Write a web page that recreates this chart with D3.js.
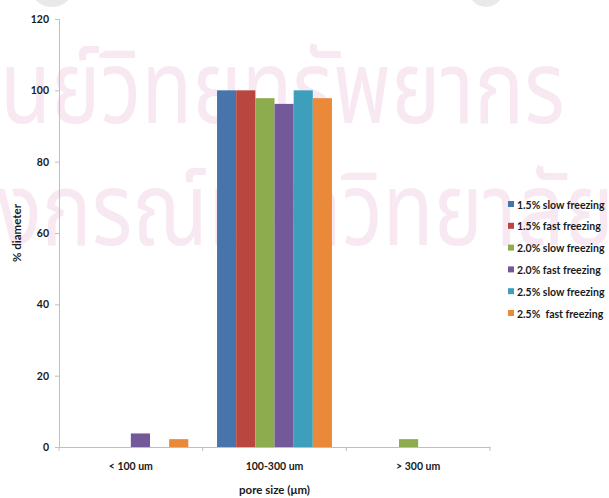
<!DOCTYPE html>
<html>
<head>
<meta charset="utf-8">
<script src="https://cdn.jsdelivr.net/npm/d3@7"></script>
<style>
  html, body { margin: 0; padding: 0; background: #ffffff; }
  svg { display: block; }
  text { font-family: Lato, "Open Sans", "DejaVu Sans", sans-serif; fill: #1a1a1a; }
</style>
</head>
<body>
<svg id="chart" width="609" height="498"></svg>
<script>
// Pore size classes on the x axis
const categories = ["< 100 um", "100-300 um", "> 300 um"];

// Sample series (legend order)
const seriesNames = [
  "1.5% slow freezing",
  "1.5% fast freezing",
  "2.0% slow freezing",
  "2.0% fast freezing",
  "2.5% slow freezing",
  "2.5%  fast freezing"
];
const seriesColors = ["#4674ab", "#b9463f", "#8dac4d", "#74599a", "#3d9fbc", "#eb893a"];

// % diameter per pore-size class, one array per class in series order
const lessThan100 = [0, 0, 0, 3.8, 0, 2.2];
const from100to300 = [100, 100, 97.8, 96.2, 100, 97.8];
const over300 = [0, 0, 2.2, 0, 0, 0];

const yTicks = [0, 20, 40, 60, 80, 100, 120];

// Faint background lettering (library stamp), with the part that runs off the left edge
const watermarkLines = ["ศูนย์วิทยทรัพยากร", "จุฬาลงกรณ์มหาวิทยาลัย"];
const watermarkHidden = ["ศู", "จุฬาล"];

const values = [lessThan100, from100to300, over300];
const table = categories.map((c, i) => ({
  category: c,
  bars: seriesNames.map((s, j) => ({ series: s, idx: j, value: values[i][j] }))
}));

const svg = d3.select("#chart");

// stamp shadows along the top edge
svg.append("ellipse").attr("cx", 52).attr("cy", -10).attr("rx", 20).attr("ry", 17).attr("fill", "#e9e9e9");
svg.append("ellipse").attr("cx", 486).attr("cy", -12).attr("rx", 18).attr("ry", 19).attr("fill", "#e9e9e9");

// watermark: size the first line so its visible part spans the plot width
const wm = svg.append("g").attr("class", "watermark");
const wmFont = "'Noto Sans Thai', 'Noto Sans', sans-serif";
function measure(str, size) {
  const t = wm.append("text").attr("font-size", size).style("font-family", wmFont).text(str);
  const w = t.node().getComputedTextLength();
  t.remove();
  return w;
}
const baseSize = 100;
const fullW = measure(watermarkLines[0], baseSize);
const hidW = measure(watermarkHidden[0], baseSize);
const wmSize = baseSize * 565 / (fullW - hidW);
const wmBaselines = [123, 245];
watermarkLines.forEach((line, i) => {
  const off = measure(watermarkHidden[i], wmSize);
  wm.append("text")
    .attr("transform", `translate(${-off - (i === 1 ? 3 : 0)},${wmBaselines[i]}) scale(1,1.22)`)
    .attr("font-size", wmSize)
    .style("fill", "#f7e8f2")
    .style("font-family", wmFont)
    .text(line);
});

const plotLeft = 59, plotRight = 490, plotTop = 19, plotBottom = 447;

const x0 = d3.scaleBand().domain(categories).range([plotLeft, plotRight]).padding(0);
const inner = x0.bandwidth() * 0.1;
const x1 = d3.scaleBand().domain(d3.range(seriesNames.length))
  .range([inner, x0.bandwidth() - inner]).padding(0);
const y = d3.scaleLinear().domain([0, 120]).range([plotBottom, plotTop]);

// bars
svg.append("g").selectAll("g")
  .data(table).join("g")
  .attr("transform", d => `translate(${x0(d.category)},0)`)
  .selectAll("rect")
  .data(d => d.bars.filter(b => b.value > 0)).join("rect")
  .attr("x", b => x1(b.idx))
  .attr("width", x1.bandwidth())
  .attr("y", b => y(b.value))
  .attr("height", b => y(0) - y(b.value))
  .attr("fill", b => seriesColors[b.idx]);

// y axis
const yAxis = svg.append("g")
  .attr("transform", `translate(${plotLeft},0)`)
  .call(d3.axisLeft(y).tickValues(yTicks).tickSize(4).tickPadding(6));
yAxis.select(".domain").attr("stroke", "#bfbfbf");
yAxis.selectAll(".tick line").attr("stroke", "#bfbfbf");
yAxis.selectAll(".tick text")
  .attr("font-size", 10.5).attr("font-weight", 700)
  .style("font-family", "Lato, sans-serif").style("fill", "#1a1a1a");

// x axis with ticks at category boundaries
const xAxis = svg.append("g")
  .attr("transform", `translate(0,${plotBottom})`)
  .call(d3.axisBottom(x0).tickSize(0).tickPadding(16));
xAxis.select(".domain").attr("stroke", "#bfbfbf");
xAxis.selectAll(".tick text")
  .attr("font-size", 10.5).attr("font-weight", 700)
  .style("font-family", "Lato, sans-serif").style("fill", "#1a1a1a");
const bounds = categories.map(c => x0(c)).concat([x0(categories[categories.length - 1]) + x0.bandwidth()]);
xAxis.selectAll(".bound").data(bounds).join("line")
  .attr("class", "bound")
  .attr("x1", d => d).attr("x2", d => d)
  .attr("y1", 0).attr("y2", 4)
  .attr("stroke", "#bfbfbf");

// axis titles
svg.append("text")
  .attr("x", (plotLeft + plotRight) / 2).attr("y", 494)
  .attr("text-anchor", "middle")
  .attr("font-size", 11.5).attr("font-weight", 700)
  .text("pore size (μm)");
svg.append("text")
  .attr("transform", `translate(21,${(plotTop + plotBottom) / 2}) rotate(-90)`)
  .attr("text-anchor", "middle")
  .attr("font-size", 11.5).attr("font-weight", 700)
  .text("% diameter");

// legend
const legend = svg.append("g").attr("transform", "translate(508,205)");
const items = legend.selectAll("g").data(seriesNames).join("g")
  .attr("transform", (d, i) => `translate(0,${i * 21.8})`);
items.append("rect")
  .attr("x", 0).attr("y", -4).attr("width", 6).attr("height", 6)
  .attr("fill", (d, i) => seriesColors[i]);
items.append("text")
  .attr("x", 9).attr("y", 0).attr("dy", "0.35em")
  .attr("font-size", 10.5).attr("font-weight", 700)
  .style("white-space", "pre")
  .text(d => d);
</script>
</body>
</html>
